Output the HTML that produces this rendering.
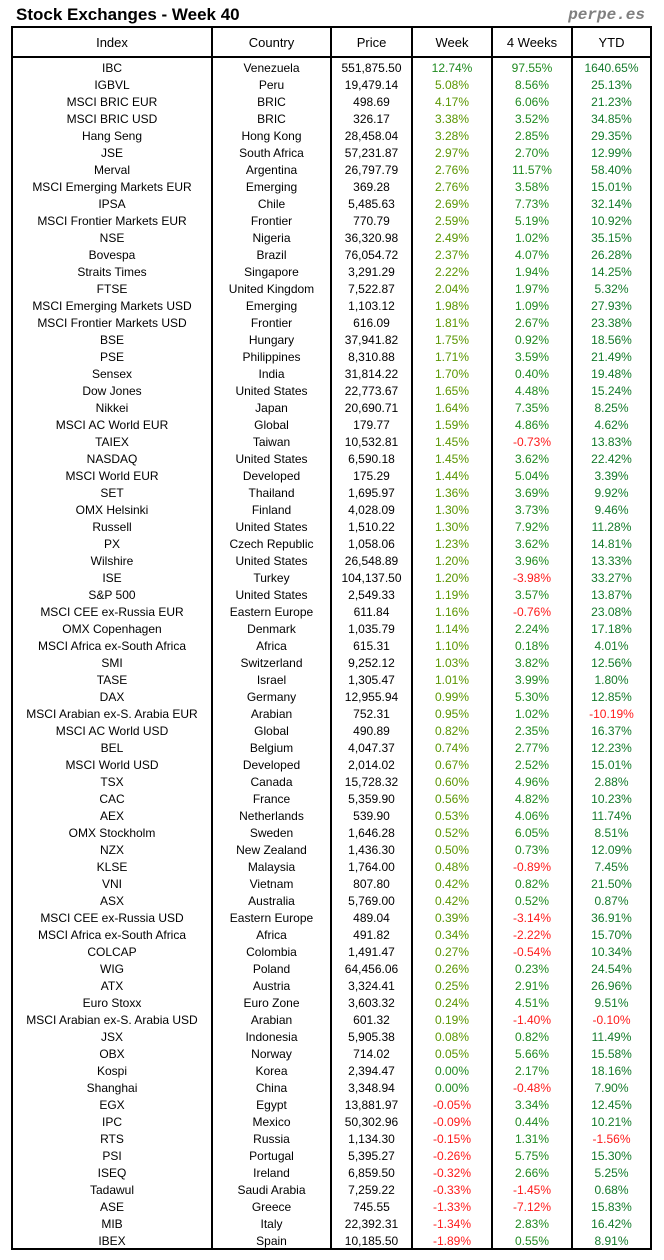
<!DOCTYPE html>
<html><head><meta charset="utf-8">
<style>
html,body{margin:0;padding:0;background:#fff;}
body{width:664px;height:1260px;position:relative;overflow:hidden;font-family:"Liberation Sans",Arial,sans-serif;color:#000;}
.title{position:absolute;left:16px;top:6px;font-weight:bold;font-size:17px;line-height:17px;white-space:nowrap;}
.brand{position:absolute;right:19px;top:7px;font-family:"Liberation Mono",monospace;font-weight:bold;font-style:italic;font-size:16px;line-height:16px;color:#7f7f7f;}
.box{position:absolute;left:11px;top:26px;width:637px;height:1220px;border:2px solid #000;}
.vl{position:absolute;top:26px;width:2px;height:1224px;background:#000;}
.hl{position:absolute;left:11px;top:56px;width:641px;height:2px;background:#000;}
.hdr{position:absolute;left:13px;top:30px;display:grid;grid-template-columns:198px 117px 79px 78px 78px 77px;column-gap:2px;font-size:13px;line-height:26px;height:26px;text-align:center;}
.rows{position:absolute;left:13px;top:60px;font-size:12px;}
.r{display:grid;grid-template-columns:198px 117px 79px 78px 78px 77px;column-gap:2px;height:17px;line-height:17px;text-align:center;white-space:nowrap;}
.r span{overflow:visible;}
.o{color:#5a9600;}
.g{color:#1f8a1f;}
.d{color:#137a2a;}
.n{color:#ff1a1a;}
</style></head><body>
<div class="title">Stock Exchanges - Week 40</div>
<div class="brand">perpe.es</div>
<div class="box"></div>
<div class="vl" style="left:211px"></div>
<div class="vl" style="left:330px"></div>
<div class="vl" style="left:411px"></div>
<div class="vl" style="left:491px"></div>
<div class="vl" style="left:571px"></div>
<div class="hl"></div>
<div class="hdr"><span>Index</span><span>Country</span><span>Price</span><span>Week</span><span>4 Weeks</span><span>YTD</span></div>
<div class="rows">
<div class="r"><span>IBC</span><span>Venezuela</span><span>551,875.50</span><span class="g">12.74%</span><span class="g">97.55%</span><span class="d">1640.65%</span></div>
<div class="r"><span>IGBVL</span><span>Peru</span><span>19,479.14</span><span class="o">5.08%</span><span class="g">8.56%</span><span class="d">25.13%</span></div>
<div class="r"><span>MSCI BRIC EUR</span><span>BRIC</span><span>498.69</span><span class="o">4.17%</span><span class="g">6.06%</span><span class="d">21.23%</span></div>
<div class="r"><span>MSCI BRIC USD</span><span>BRIC</span><span>326.17</span><span class="o">3.38%</span><span class="g">3.52%</span><span class="d">34.85%</span></div>
<div class="r"><span>Hang Seng</span><span>Hong Kong</span><span>28,458.04</span><span class="o">3.28%</span><span class="g">2.85%</span><span class="d">29.35%</span></div>
<div class="r"><span>JSE</span><span>South Africa</span><span>57,231.87</span><span class="o">2.97%</span><span class="g">2.70%</span><span class="d">12.99%</span></div>
<div class="r"><span>Merval</span><span>Argentina</span><span>26,797.79</span><span class="o">2.76%</span><span class="g">11.57%</span><span class="d">58.40%</span></div>
<div class="r"><span>MSCI Emerging Markets EUR</span><span>Emerging</span><span>369.28</span><span class="o">2.76%</span><span class="g">3.58%</span><span class="d">15.01%</span></div>
<div class="r"><span>IPSA</span><span>Chile</span><span>5,485.63</span><span class="o">2.69%</span><span class="g">7.73%</span><span class="d">32.14%</span></div>
<div class="r"><span>MSCI Frontier Markets EUR</span><span>Frontier</span><span>770.79</span><span class="o">2.59%</span><span class="g">5.19%</span><span class="d">10.92%</span></div>
<div class="r"><span>NSE</span><span>Nigeria</span><span>36,320.98</span><span class="o">2.49%</span><span class="g">1.02%</span><span class="d">35.15%</span></div>
<div class="r"><span>Bovespa</span><span>Brazil</span><span>76,054.72</span><span class="o">2.37%</span><span class="g">4.07%</span><span class="d">26.28%</span></div>
<div class="r"><span>Straits Times</span><span>Singapore</span><span>3,291.29</span><span class="o">2.22%</span><span class="g">1.94%</span><span class="d">14.25%</span></div>
<div class="r"><span>FTSE</span><span>United Kingdom</span><span>7,522.87</span><span class="o">2.04%</span><span class="g">1.97%</span><span class="d">5.32%</span></div>
<div class="r"><span>MSCI Emerging Markets USD</span><span>Emerging</span><span>1,103.12</span><span class="o">1.98%</span><span class="g">1.09%</span><span class="d">27.93%</span></div>
<div class="r"><span>MSCI Frontier Markets USD</span><span>Frontier</span><span>616.09</span><span class="o">1.81%</span><span class="g">2.67%</span><span class="d">23.38%</span></div>
<div class="r"><span>BSE</span><span>Hungary</span><span>37,941.82</span><span class="o">1.75%</span><span class="g">0.92%</span><span class="d">18.56%</span></div>
<div class="r"><span>PSE</span><span>Philippines</span><span>8,310.88</span><span class="o">1.71%</span><span class="g">3.59%</span><span class="d">21.49%</span></div>
<div class="r"><span>Sensex</span><span>India</span><span>31,814.22</span><span class="o">1.70%</span><span class="g">0.40%</span><span class="d">19.48%</span></div>
<div class="r"><span>Dow Jones</span><span>United States</span><span>22,773.67</span><span class="o">1.65%</span><span class="g">4.48%</span><span class="d">15.24%</span></div>
<div class="r"><span>Nikkei</span><span>Japan</span><span>20,690.71</span><span class="o">1.64%</span><span class="g">7.35%</span><span class="d">8.25%</span></div>
<div class="r"><span>MSCI AC World EUR</span><span>Global</span><span>179.77</span><span class="o">1.59%</span><span class="g">4.86%</span><span class="d">4.62%</span></div>
<div class="r"><span>TAIEX</span><span>Taiwan</span><span>10,532.81</span><span class="o">1.45%</span><span class="n">-0.73%</span><span class="d">13.83%</span></div>
<div class="r"><span>NASDAQ</span><span>United States</span><span>6,590.18</span><span class="o">1.45%</span><span class="g">3.62%</span><span class="d">22.42%</span></div>
<div class="r"><span>MSCI World EUR</span><span>Developed</span><span>175.29</span><span class="o">1.44%</span><span class="g">5.04%</span><span class="d">3.39%</span></div>
<div class="r"><span>SET</span><span>Thailand</span><span>1,695.97</span><span class="o">1.36%</span><span class="g">3.69%</span><span class="d">9.92%</span></div>
<div class="r"><span>OMX Helsinki</span><span>Finland</span><span>4,028.09</span><span class="o">1.30%</span><span class="g">3.73%</span><span class="d">9.46%</span></div>
<div class="r"><span>Russell</span><span>United States</span><span>1,510.22</span><span class="o">1.30%</span><span class="g">7.92%</span><span class="d">11.28%</span></div>
<div class="r"><span>PX</span><span>Czech Republic</span><span>1,058.06</span><span class="o">1.23%</span><span class="g">3.62%</span><span class="d">14.81%</span></div>
<div class="r"><span>Wilshire</span><span>United States</span><span>26,548.89</span><span class="o">1.20%</span><span class="g">3.96%</span><span class="d">13.33%</span></div>
<div class="r"><span>ISE</span><span>Turkey</span><span>104,137.50</span><span class="o">1.20%</span><span class="n">-3.98%</span><span class="d">33.27%</span></div>
<div class="r"><span>S&amp;P 500</span><span>United States</span><span>2,549.33</span><span class="o">1.19%</span><span class="g">3.57%</span><span class="d">13.87%</span></div>
<div class="r"><span>MSCI CEE ex-Russia EUR</span><span>Eastern Europe</span><span>611.84</span><span class="o">1.16%</span><span class="n">-0.76%</span><span class="d">23.08%</span></div>
<div class="r"><span>OMX Copenhagen</span><span>Denmark</span><span>1,035.79</span><span class="o">1.14%</span><span class="g">2.24%</span><span class="d">17.18%</span></div>
<div class="r"><span>MSCI Africa ex-South Africa</span><span>Africa</span><span>615.31</span><span class="o">1.10%</span><span class="g">0.18%</span><span class="d">4.01%</span></div>
<div class="r"><span>SMI</span><span>Switzerland</span><span>9,252.12</span><span class="o">1.03%</span><span class="g">3.82%</span><span class="d">12.56%</span></div>
<div class="r"><span>TASE</span><span>Israel</span><span>1,305.47</span><span class="o">1.01%</span><span class="g">3.99%</span><span class="d">1.80%</span></div>
<div class="r"><span>DAX</span><span>Germany</span><span>12,955.94</span><span class="o">0.99%</span><span class="g">5.30%</span><span class="d">12.85%</span></div>
<div class="r"><span>MSCI Arabian ex-S. Arabia EUR</span><span>Arabian</span><span>752.31</span><span class="o">0.95%</span><span class="g">1.02%</span><span class="n">-10.19%</span></div>
<div class="r"><span>MSCI AC World USD</span><span>Global</span><span>490.89</span><span class="o">0.82%</span><span class="g">2.35%</span><span class="d">16.37%</span></div>
<div class="r"><span>BEL</span><span>Belgium</span><span>4,047.37</span><span class="o">0.74%</span><span class="g">2.77%</span><span class="d">12.23%</span></div>
<div class="r"><span>MSCI World USD</span><span>Developed</span><span>2,014.02</span><span class="o">0.67%</span><span class="g">2.52%</span><span class="d">15.01%</span></div>
<div class="r"><span>TSX</span><span>Canada</span><span>15,728.32</span><span class="o">0.60%</span><span class="g">4.96%</span><span class="d">2.88%</span></div>
<div class="r"><span>CAC</span><span>France</span><span>5,359.90</span><span class="o">0.56%</span><span class="g">4.82%</span><span class="d">10.23%</span></div>
<div class="r"><span>AEX</span><span>Netherlands</span><span>539.90</span><span class="o">0.53%</span><span class="g">4.06%</span><span class="d">11.74%</span></div>
<div class="r"><span>OMX Stockholm</span><span>Sweden</span><span>1,646.28</span><span class="o">0.52%</span><span class="g">6.05%</span><span class="d">8.51%</span></div>
<div class="r"><span>NZX</span><span>New Zealand</span><span>1,436.30</span><span class="o">0.50%</span><span class="g">0.73%</span><span class="d">12.09%</span></div>
<div class="r"><span>KLSE</span><span>Malaysia</span><span>1,764.00</span><span class="o">0.48%</span><span class="n">-0.89%</span><span class="d">7.45%</span></div>
<div class="r"><span>VNI</span><span>Vietnam</span><span>807.80</span><span class="o">0.42%</span><span class="g">0.82%</span><span class="d">21.50%</span></div>
<div class="r"><span>ASX</span><span>Australia</span><span>5,769.00</span><span class="o">0.42%</span><span class="g">0.52%</span><span class="d">0.87%</span></div>
<div class="r"><span>MSCI CEE ex-Russia USD</span><span>Eastern Europe</span><span>489.04</span><span class="o">0.39%</span><span class="n">-3.14%</span><span class="d">36.91%</span></div>
<div class="r"><span>MSCI Africa ex-South Africa</span><span>Africa</span><span>491.82</span><span class="o">0.34%</span><span class="n">-2.22%</span><span class="d">15.70%</span></div>
<div class="r"><span>COLCAP</span><span>Colombia</span><span>1,491.47</span><span class="o">0.27%</span><span class="n">-0.54%</span><span class="d">10.34%</span></div>
<div class="r"><span>WIG</span><span>Poland</span><span>64,456.06</span><span class="o">0.26%</span><span class="g">0.23%</span><span class="d">24.54%</span></div>
<div class="r"><span>ATX</span><span>Austria</span><span>3,324.41</span><span class="o">0.25%</span><span class="g">2.91%</span><span class="d">26.96%</span></div>
<div class="r"><span>Euro Stoxx</span><span>Euro Zone</span><span>3,603.32</span><span class="o">0.24%</span><span class="g">4.51%</span><span class="d">9.51%</span></div>
<div class="r"><span>MSCI Arabian ex-S. Arabia USD</span><span>Arabian</span><span>601.32</span><span class="o">0.19%</span><span class="n">-1.40%</span><span class="n">-0.10%</span></div>
<div class="r"><span>JSX</span><span>Indonesia</span><span>5,905.38</span><span class="o">0.08%</span><span class="g">0.82%</span><span class="d">11.49%</span></div>
<div class="r"><span>OBX</span><span>Norway</span><span>714.02</span><span class="o">0.05%</span><span class="g">5.66%</span><span class="d">15.58%</span></div>
<div class="r"><span>Kospi</span><span>Korea</span><span>2,394.47</span><span class="g">0.00%</span><span class="g">2.17%</span><span class="d">18.16%</span></div>
<div class="r"><span>Shanghai</span><span>China</span><span>3,348.94</span><span class="g">0.00%</span><span class="n">-0.48%</span><span class="d">7.90%</span></div>
<div class="r"><span>EGX</span><span>Egypt</span><span>13,881.97</span><span class="n">-0.05%</span><span class="g">3.34%</span><span class="d">12.45%</span></div>
<div class="r"><span>IPC</span><span>Mexico</span><span>50,302.96</span><span class="n">-0.09%</span><span class="g">0.44%</span><span class="d">10.21%</span></div>
<div class="r"><span>RTS</span><span>Russia</span><span>1,134.30</span><span class="n">-0.15%</span><span class="g">1.31%</span><span class="n">-1.56%</span></div>
<div class="r"><span>PSI</span><span>Portugal</span><span>5,395.27</span><span class="n">-0.26%</span><span class="g">5.75%</span><span class="d">15.30%</span></div>
<div class="r"><span>ISEQ</span><span>Ireland</span><span>6,859.50</span><span class="n">-0.32%</span><span class="g">2.66%</span><span class="d">5.25%</span></div>
<div class="r"><span>Tadawul</span><span>Saudi Arabia</span><span>7,259.22</span><span class="n">-0.33%</span><span class="n">-1.45%</span><span class="d">0.68%</span></div>
<div class="r"><span>ASE</span><span>Greece</span><span>745.55</span><span class="n">-1.33%</span><span class="n">-7.12%</span><span class="d">15.83%</span></div>
<div class="r"><span>MIB</span><span>Italy</span><span>22,392.31</span><span class="n">-1.34%</span><span class="g">2.83%</span><span class="d">16.42%</span></div>
<div class="r"><span>IBEX</span><span>Spain</span><span>10,185.50</span><span class="n">-1.89%</span><span class="g">0.55%</span><span class="d">8.91%</span></div>
</div>
</body></html>
